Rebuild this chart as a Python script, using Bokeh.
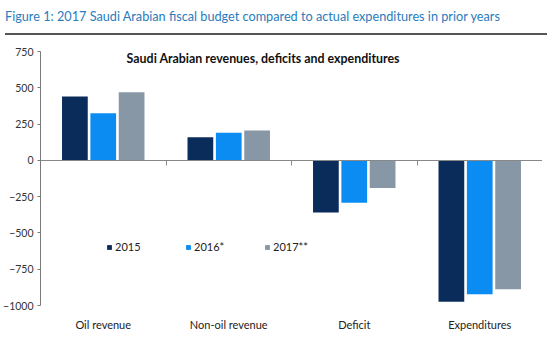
from bokeh.plotting import figure
from bokeh.models import (ColumnDataSource, Range1d, LinearAxis, FixedTicker,
                          Label, Legend, LegendItem, Div)
from bokeh.transform import dodge
from bokeh.layouts import column
from bokeh.embed import file_html
from bokeh.resources import INLINE

categories = ["Oil revenue", "Non-oil revenue", "Deficit", "Expenditures"]
v2015 = [440, 160, -360, -975]
v2016 = [325, 190, -292, -922]
v2017 = [470, 205, -190, -888]
series_labels = ["2015", "2016*", "2017**"]
colors = ["#0a2c5a", "#0b8cf2", "#8797a6"]
y_ticks = [750, 500, 250, 0, -250, -500, -750, -1000]
outer_title = "Figure 1: 2017 Saudi Arabian fiscal budget compared to actual expenditures in prior years"
inner_title = "Saudi Arabian revenues, deficits and expenditures"

FONT = "Lato"

n = len(categories)
centers = [i + 0.5 for i in range(n)]
source = ColumnDataSource(dict(x=centers, cat=categories, y2015=v2015, y2016=v2016, y2017=v2017))

header = Div(text=outer_title, width=542, height=30,
             styles={"font-family": FONT, "font-size": "12.7px", "color": "#2a7cbc",
                     "border-bottom": "2px solid #555555", "box-sizing": "border-box",
                     "padding-top": "2px", "white-space": "nowrap"})

p = figure(width=542, height=317, x_range=Range1d(0, n),
           y_range=Range1d(-1000, 750), output_backend="svg", toolbar_location=None,
           min_border_left=36, min_border_right=0, min_border_top=11, min_border_bottom=52)
p.outline_line_color = None
p.xgrid.visible = False
p.ygrid.visible = False
p.background_fill_color = "white"

offsets = [-0.226, 0.0, 0.226]
cols = ["y2015", "y2016", "y2017"]
renderers = []
for off, c, col in zip(offsets, colors, cols):
    r = p.vbar(x=dodge("x", off), top=col, bottom=0, width=0.205,
               source=source, fill_color=c, line_color=None)
    renderers.append(r)

# y axis
ya = p.yaxis[0]
ya.ticker = FixedTicker(ticks=y_ticks)
ya.axis_line_color = "#7a7a7a"
ya.major_tick_line_color = "#7a7a7a"
ya.major_tick_in = 0
ya.major_tick_out = 3
ya.minor_tick_in = 0
ya.minor_tick_out = 0
ya.minor_tick_line_color = None
ya.major_label_text_font = FONT
ya.major_label_text_font_size = "10.5px"
ya.major_label_text_color = "#333333"
ya.major_label_standoff = 4
ya.axis_label_text_font_size = "0px"
ya.axis_label_standoff = 0

# category labels
xa = p.xaxis[0]
xa.ticker = FixedTicker(ticks=centers)
xa.major_label_overrides = {c: name for c, name in zip(centers, categories)}
xa.axis_line_color = None
xa.major_tick_line_color = None
xa.minor_tick_line_color = None
xa.major_label_text_font = FONT
xa.major_label_text_font_size = "11px"
xa.major_label_text_color = "#222222"
xa.major_label_standoff = 6
xa.axis_label_text_font_size = "0px"
xa.axis_label_standoff = 0

# zero line with boundary ticks
bounds = list(range(1, n + 1))
za = LinearAxis(ticker=FixedTicker(ticks=bounds),
                fixed_location=0, axis_line_color="#888888", major_tick_line_color="#888888",
                major_tick_in=5, major_tick_out=0, minor_tick_line_color=None,
                minor_tick_in=0, minor_tick_out=0,
                major_label_overrides={b: "" for b in bounds}, major_label_standoff=0,
                axis_label_text_font_size="0px", axis_label_standoff=0)
p.add_layout(za, "above")

p.add_layout(Label(x=1.775, y=700, text=inner_title, text_align="center", text_baseline="middle",
                   text_font=FONT, text_font_style="bold", text_font_size="12.4px",
                   text_color="#111111"))

legend = Legend(items=[LegendItem(label=l, renderers=[r]) for l, r in zip(series_labels, renderers)],
                orientation="horizontal", location=(66, 52), glyph_width=6, glyph_height=6,
                label_height=12, label_width=62, label_standoff=3, spacing=8, padding=0, margin=0,
                border_line_color=None, background_fill_alpha=0,
                label_text_font=FONT, label_text_font_size="11px", label_text_color="#222222")
p.add_layout(legend, "center")

layout = column(header, p, spacing=0)
open("out.html", "w").write(file_html(layout, INLINE))
